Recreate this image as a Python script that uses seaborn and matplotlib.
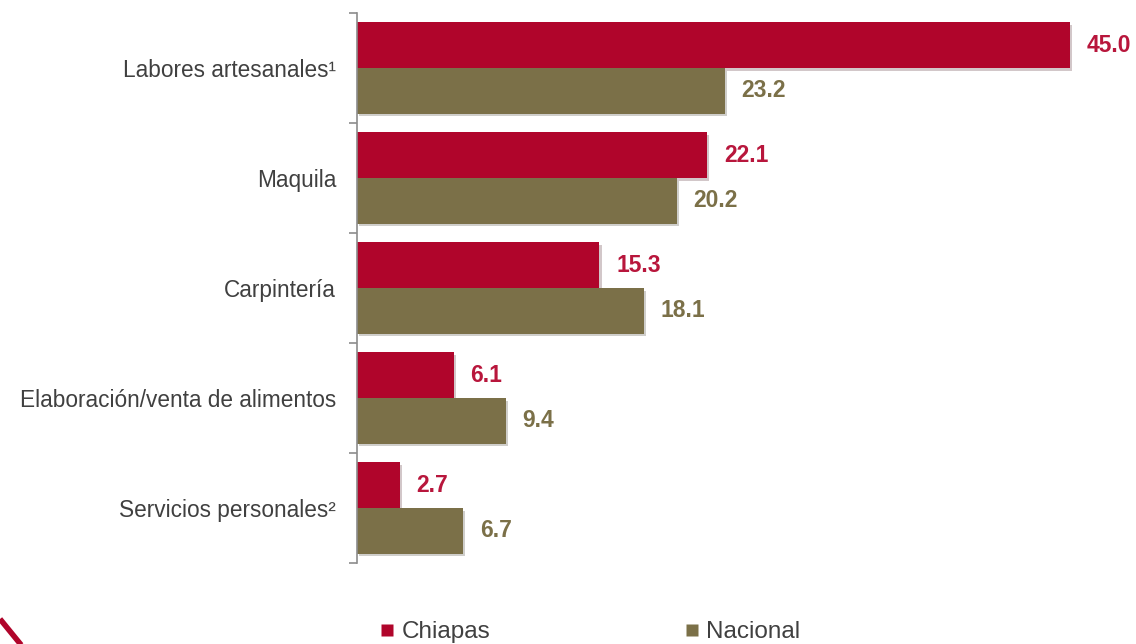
import matplotlib
matplotlib.use("Agg")
import matplotlib.pyplot as plt
import seaborn as sns
import pandas as pd
from matplotlib.lines import Line2D
from matplotlib import patheffects as pe

categories = ["Labores artesanales¹", "Maquila", "Carpintería",
              "Elaboración/venta de alimentos", "Servicios personales²"]
chiapas = [45.0, 22.1, 15.3, 6.1, 2.7]
nacional = [23.2, 20.2, 18.1, 9.4, 6.7]
series = ["Chiapas", "Nacional"]

c_chiapas = "#B0052B"
c_nacional = "#7B7048"
txt_chiapas = "#B8163C"
txt_nacional = "#7B7048"

df = pd.DataFrame({
    "categoria": categories * 2,
    "valor": chiapas + nacional,
    "serie": [series[0]] * len(categories) + [series[1]] * len(categories),
})

sns.set_theme(style="white")
plt.rcParams["font.family"] = ["Liberation Sans", "DejaVu Sans"]

W, H = 1136, 644
fig = plt.figure(figsize=(W / 100, H / 100), dpi=100)
xmax = 48.0
px_per_unit = 713 / 45.0
left_px, top_px, bot_px = 357, 13, 563
ax = fig.add_axes([left_px / W, 1 - bot_px / H,
                   xmax * px_per_unit / W, (bot_px - top_px) / H])

sns.barplot(data=df, y="categoria", x="valor", hue="serie", orient="h",
            palette=[c_chiapas, c_nacional], width=0.83, gap=0,
            saturation=1, ax=ax, legend=False)

shadow = [pe.SimplePatchShadow(offset=(1.5, -2), alpha=0.22), pe.Normal()]
for container, tcol in zip(ax.containers, [txt_chiapas, txt_nacional]):
    for bar in container:
        bar.set_edgecolor("none")
        bar.set_path_effects(shadow)
    ax.bar_label(container, labels=[f"{v.get_width():.1f}" for v in container],
                 padding=12, color=tcol, fontsize=16.5, fontweight="bold")

ax.set_xlim(0, xmax)
ax.set_ylim(len(categories) - 0.5, -0.5)
ax.set_xlabel("")
ax.set_ylabel("")
ax.set_xticks([])
for s in ["top", "right", "bottom"]:
    ax.spines[s].set_visible(False)
ax.spines["left"].set_color("#8C8C8C")
ax.spines["left"].set_linewidth(1.2)
ax.set_yticks(range(len(categories)))
ax.set_yticklabels(categories, fontsize=16.3, color="#404040")
ax.set_yticks([i - 0.5 for i in range(len(categories) + 1)], minor=True)
ax.tick_params(axis="y", which="major", length=0, pad=15)
ax.tick_params(axis="y", which="minor", length=6, width=1.2, color="#8C8C8C",
               left=True)

handles = [Line2D([0], [0], marker="s", linestyle="none", markersize=8,
                  markerfacecolor=c, markeredgecolor="none")
           for c in [c_chiapas, c_nacional]]
fig.legend(handles, series, loc="center", ncol=2,
           bbox_to_anchor=(590 / W, 1 - 632 / H), frameon=False,
           fontsize=17.5, handletextpad=0.3, handlelength=0.6,
           columnspacing=8.0, labelcolor="#404040")

fig.add_artist(Line2D([0 / W, 22 / W], [1 - 619 / H, 1 - 646 / H],
                      color=c_chiapas, linewidth=4, transform=fig.transFigure,
                      solid_capstyle="butt"))

fig.savefig("out.png", dpi=100, facecolor="white")
